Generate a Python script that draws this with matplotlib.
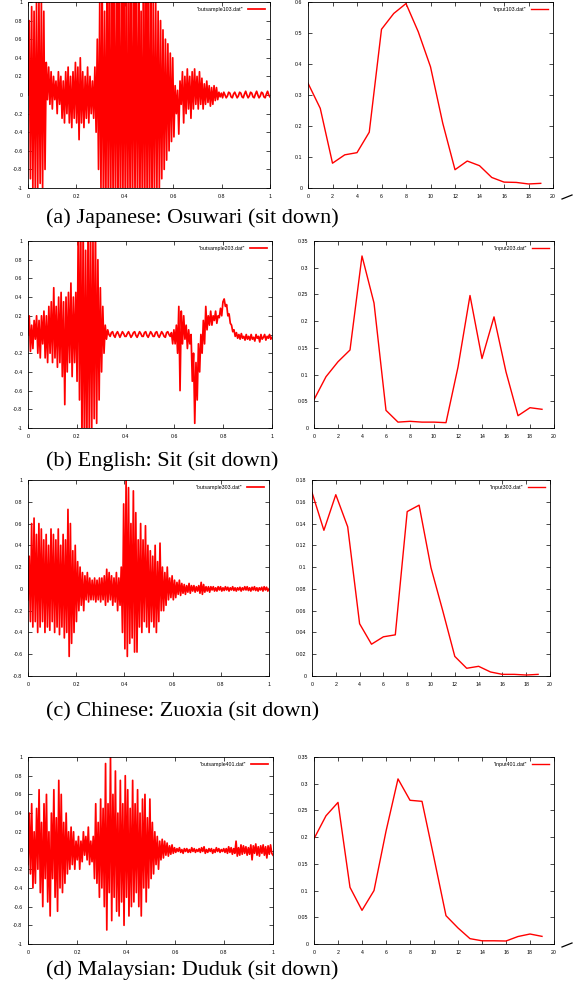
import numpy as np
import matplotlib
matplotlib.use('Agg')
import matplotlib.pyplot as plt
from matplotlib.ticker import FuncFormatter, MultipleLocator
from matplotlib.lines import Line2D

# waveforms: 200 samples each over t = 0..1 (20 per 0.1)
wave103 = [
    0.0, 0.8, -0.9, 0.95, -1.0, 0.9, -1.0, 1.0, -1.0, 1.0, -0.95, 1.0, -1.0, 0.9, -0.8, 0.35, -0.05, 0.3, -0.1, 0.25,
    -0.15, 0.2, -0.05, 0.15, -0.2, 0.25, -0.1, 0.2, -0.25, 0.15, -0.3, 0.25, -0.2, 0.3, -0.3, 0.2, -0.35, 0.25, -0.25, 0.35,
    -0.3, 0.3, -0.48, 0.4, -0.3, 0.25, -0.35, 0.2, -0.25, 0.3, -0.3, 0.2, -0.2, 0.15, -0.25, 0.3, -0.4, 0.6, -0.8, 1.0,
    -1.0, 1.2, -1.2, 0.9, -1.2, 1.2, -1.1, 1.2, -1.2, 1.1, -1.2, 1.2, -1.2, 1.2, -1.2, 1.2, -1.2, 1.2, -1.2, 1.2,
    -1.2, 1.2, -1.2, 1.0, -1.2, 1.2, -1.2, 1.2, -1.1, 1.2, -1.2, 1.2, -1.2, 0.9, -1.2, 1.2, -1.2, 1.2, -1.2, 1.2,
    -1.2, 1.1, -1.2, 1.0, -1.1, 1.0, -1.0, 0.9, -1.0, 0.8, -0.9, 0.7, -0.8, 0.6, -0.7, 0.55, -0.6, 0.45, -0.5, 0.4,
    -0.45, 0.1, -0.2, 0.05, -0.42, 0.15, -0.1, 0.25, -0.3, 0.2, -0.2, 0.28, -0.15, 0.2, -0.25, 0.25, -0.15, 0.28, -0.1, 0.2,
    -0.15, 0.25, -0.1, 0.18, -0.15, 0.12, -0.1, 0.15, -0.08, 0.1, -0.12, 0.08, -0.1, 0.1, -0.06, 0.08, -0.05, 0.03, -0.02, 0.02,
    -0.03, 0.03, 0.0, -0.03, -0.01, 0.03, 0.02, -0.02, -0.03, 0.01, 0.03, 0.0, -0.03, -0.01, 0.03, 0.02, -0.02, -0.03, 0.01, 0.04,
    0.0, -0.03, -0.01, 0.03, 0.02, -0.02, -0.03, 0.01, 0.04, 0.0, -0.03, -0.01, 0.03, 0.02, -0.02, -0.03, 0.01, 0.04, 0.0, -0.02,
]
wave203 = [
    0.0, 0.2, -0.18, 0.1, -0.15, 0.15, -0.05, 0.2, -0.2, 0.15, -0.25, 0.2, -0.1, 0.25, -0.25, 0.2, -0.3, 0.3, -0.2, 0.35,
    -0.3, 0.5, -0.25, 0.3, -0.35, 0.4, -0.3, 0.45, -0.45, 0.35, -0.75, 0.4, -0.4, 0.45, -0.3, 0.55, -0.45, 0.4, -0.3, 0.45,
    -0.5, 1.2, -0.7, 1.2, -1.2, 1.2, -1.2, 0.9, -1.2, 1.2, -1.1, 1.2, -1.0, 1.0, -0.9, 1.2, -0.95, 0.8, -0.7, 0.5,
    -0.4, 0.3, -0.2, 0.1, -0.05, 0.05, 0.0, -0.02, 0.02, 0.03, -0.01, -0.03, 0.01, 0.03, 0.0, -0.03, 0.0, 0.03, 0.01, -0.02,
    -0.02, 0.01, 0.03, 0.0, -0.03, -0.01, 0.02, 0.03, -0.01, -0.03, 0.0, 0.03, 0.01, -0.02, -0.02, 0.02, 0.03, -0.01, -0.03, 0.0,
    0.03, 0.01, -0.02, -0.02, 0.02, 0.03, -0.01, -0.03, 0.0, 0.03, 0.01, -0.02, -0.03, 0.02, 0.03, 0.0, -0.02, 0.02, -0.1, 0.05,
    -0.1, 0.1, -0.2, 0.3, -0.6, 0.25, -0.1, 0.2, -0.05, 0.1, -0.15, 0.05, -0.1, 0.0, -0.5, -0.2, -0.95, -0.3, -0.7, -0.1,
    -0.4, 0.0, -0.2, 0.15, -0.1, 0.3, 0.05, 0.2, 0.1, 0.25, 0.1, 0.2, 0.15, 0.25, 0.12, 0.2, 0.18, 0.28, 0.2, 0.35,
    0.38, 0.3, 0.32, 0.2, 0.22, 0.12, 0.1, 0.03, 0.05, -0.02, 0.02, -0.04, 0.0, -0.05, 0.01, -0.04, -0.02, -0.06, 0.0, -0.05,
    -0.02, -0.06, 0.0, -0.05, -0.03, -0.07, 0.0, -0.04, -0.02, -0.08, 0.0, -0.05, -0.03, 0.0, -0.06, -0.02, -0.04, 0.0, -0.05, -0.03,
]
wave303 = [
    -0.1, 0.3, -0.3, 0.6, -0.35, 0.65, -0.3, 0.5, -0.4, 0.6, -0.35, 0.55, -0.3, 0.45, -0.4, 0.5, -0.35, 0.4, -0.38, 0.55,
    -0.3, 0.5, -0.4, 0.45, -0.35, 0.55, -0.42, 0.4, -0.35, 0.5, -0.45, 0.45, -0.4, 0.73, -0.62, 0.6, -0.5, 0.35, -0.4, 0.4,
    -0.3, 0.25, -0.2, 0.2, -0.15, 0.15, -0.2, 0.12, -0.1, 0.15, -0.12, 0.1, -0.1, 0.08, -0.1, 0.1, -0.12, 0.08, -0.1, 0.1,
    -0.12, 0.1, -0.1, 0.12, -0.15, 0.18, -0.12, 0.15, -0.1, 0.12, -0.15, 0.1, -0.12, 0.15, -0.2, 0.1, -0.15, 0.2, -0.4, 0.78,
    -0.55, 1.0, -0.62, 0.93, -0.5, 0.6, -0.45, 0.9, -0.58, 0.7, -0.58, 0.45, -0.35, 0.6, -0.4, 0.45, -0.3, 0.58, -0.35, 0.4,
    -0.4, 0.35, -0.3, 0.3, -0.35, 0.4, -0.4, 0.25, -0.3, 0.42, -0.2, 0.2, -0.2, 0.15, -0.15, 0.2, -0.1, 0.1, -0.08, 0.12,
    -0.1, 0.08, -0.08, 0.06, -0.05, 0.08, -0.06, 0.05, -0.04, 0.04, -0.05, 0.03, -0.03, 0.05, -0.04, 0.03, -0.02, 0.03, -0.03, 0.02,
    -0.02, 0.03, -0.04, 0.06, -0.05, 0.04, -0.03, 0.02, -0.02, 0.02, -0.03, 0.02, -0.01, 0.02, -0.02, 0.01, -0.02, 0.02, -0.01, 0.02,
    -0.02, 0.01, -0.015, 0.02, -0.01, 0.015, -0.02, 0.01, -0.01, 0.02, -0.015, 0.01, -0.02, 0.01, -0.01, 0.015, -0.02, 0.01, -0.01, 0.02,
    -0.01, 0.02, -0.015, 0.01, -0.02, 0.015, -0.01, 0.02, -0.015, 0.01, -0.02, 0.01, -0.01, 0.015, -0.02, 0.02, -0.01, 0.015, -0.02, 0.0,
]
wave401 = [
    -0.15, 0.4, -0.25, 0.5, -0.4, 0.2, -0.35, 0.45, -0.2, 0.65, -0.45, 0.3, -0.6, 0.5, -0.3, 0.6, -0.55, 0.2, -0.7, 0.4,
    -0.3, 0.65, -0.5, 0.35, -0.65, 0.75, -0.4, 0.6, -0.45, 0.3, -0.35, 0.4, -0.25, 0.2, -0.2, 0.25, -0.15, 0.2, -0.2, 0.1,
    -0.1, 0.15, -0.2, 0.1, -0.12, 0.2, -0.05, 0.15, -0.1, 0.25, -0.15, 0.1, -0.12, 0.15, -0.3, 0.5, -0.35, 0.3, -0.5, 0.55,
    -0.4, 0.45, -0.6, 0.93, -0.85, 0.5, -0.45, 1.0, -0.75, 0.6, -0.5, 0.85, -0.65, 0.4, -0.7, 0.75, -0.55, 0.5, -0.8, 0.8,
    -0.5, 0.65, -0.7, 0.45, -0.6, 0.75, -0.55, 0.5, -0.45, 0.65, -0.6, 0.4, -0.7, 0.55, -0.4, 0.6, -0.55, 0.35, -0.4, 0.55,
    -0.3, 0.3, -0.25, 0.2, -0.15, 0.15, -0.2, 0.1, -0.1, 0.12, -0.08, 0.1, -0.05, 0.08, -0.06, 0.05, -0.04, 0.06, -0.03, 0.03,
    -0.02, 0.02, -0.01, 0.03, -0.02, 0.01, -0.03, 0.02, -0.01, 0.02, -0.02, 0.01, -0.02, 0.03, -0.01, 0.02, -0.02, 0.01, -0.01, 0.02,
    -0.02, 0.03, -0.01, 0.04, -0.03, 0.01, -0.02, 0.02, -0.01, 0.02, -0.03, 0.01, -0.02, 0.03, -0.01, 0.02, -0.02, 0.01, -0.01, 0.02,
    -0.02, 0.02, -0.03, 0.04, -0.02, 0.03, -0.04, 0.02, -0.03, 0.1, -0.06, 0.03, -0.05, 0.06, -0.04, 0.05, -0.03, 0.04, -0.05, 0.03,
    -0.04, 0.06, -0.1, 0.05, -0.03, 0.07, -0.05, 0.04, -0.06, 0.05, -0.03, 0.06, -0.05, 0.04, -0.08, 0.05, -0.04, 0.06, -0.03, -0.05,
]

# feature vectors (index 0..19)
input103 = [0.338, 0.257, 0.080, 0.107, 0.114, 0.180, 0.512, 0.563, 0.595, 0.504,
            0.391, 0.209, 0.059, 0.087, 0.072, 0.034, 0.019, 0.018, 0.013, 0.015]
input203 = [0.053, 0.096, 0.124, 0.146, 0.322, 0.234, 0.033, 0.011, 0.0125, 0.011,
            0.011, 0.010, 0.114, 0.248, 0.130, 0.208, 0.105, 0.023, 0.038, 0.035]
input303 = [0.1686, 0.1338, 0.1665, 0.137, 0.048, 0.0292, 0.036, 0.0378, 0.151, 0.1569,
            0.0994, 0.0594, 0.018, 0.0071, 0.0089, 0.0037, 0.0015, 0.0015, 0.0009, 0.0015]
input401 = [0.197, 0.240, 0.265, 0.106, 0.063, 0.100, 0.211, 0.309, 0.269, 0.267,
            0.161, 0.053, 0.030, 0.010, 0.006, 0.006, 0.0056, 0.014, 0.0187, 0.0143]

wave_names = ['"outsample103.dat"', '"outsample203.dat"', '"outsample303.dat"', '"outsample401.dat"']
input_names = ['"input103.dat"', '"input203.dat"', '"input303.dat"', '"input401.dat"']
captions = ['(a) Japanese: Osuwari (sit down)', '(b) English: Sit (sit down)',
            '(c) Chinese: Zuoxia (sit down)', '(d) Malaysian: Duduk (sit down)']

waves = [wave103, wave203, wave303, wave401]
inputs = [input103, input203, input303, input401]
wave_ylim = [(-1, 1), (-1, 1), (-0.8, 1), (-1, 1)]
input_ylim = [(0, 0.6), (0, 0.35), (0, 0.18), (0, 0.35)]
input_ystep = [0.1, 0.05, 0.02, 0.05]

W, H = 584, 993
fig = plt.figure(figsize=(W / 100, H / 100), dpi=100)


def box(x0, y0, x1, y1):
    return [x0 / W, 1 - y1 / H, (x1 - x0) / W, (y1 - y0) / H]


left_boxes = [(28, 2, 270, 188), (28, 241, 272, 428), (28, 480, 269, 676), (28, 757, 273, 944)]
right_boxes = [(308, 2, 553, 188), (314, 241, 554, 428), (312, 480, 550, 676), (314, 757, 554, 944)]
caption_y = [218, 461, 712, 970]

fmt = FuncFormatter(lambda v, p: '%g' % round(v, 4))


def style(ax):
    ax.tick_params(direction='in', top=True, right=True, length=3, width=0.5,
                   labelsize=3.8, pad=4, colors='black')
    for s in ax.spines.values():
        s.set_linewidth(0.6)
    ax.xaxis.set_major_formatter(fmt)
    ax.yaxis.set_major_formatter(fmt)
    for lab in ax.get_xticklabels() + ax.get_yticklabels():
        lab.set_fontfamily('Liberation Sans')
    ax.legend(loc='upper right', frameon=False, markerfirst=False,
              handlelength=3.2, borderaxespad=0.6, prop={'family': 'Liberation Sans', 'size': 3.8})


for i in range(4):
    ax = fig.add_axes(box(*left_boxes[i]))
    t = np.linspace(0, 1, len(waves[i]))
    ax.plot(t, waves[i], color='#ff0000', linewidth=1.25, label=wave_names[i])
    ax.set_xlim(0, 1)
    ax.set_ylim(*wave_ylim[i])
    ax.xaxis.set_major_locator(MultipleLocator(0.2))
    ax.yaxis.set_major_locator(MultipleLocator(0.2))
    style(ax)

    ax2 = fig.add_axes(box(*right_boxes[i]))
    ax2.plot(range(len(inputs[i])), inputs[i], color='#ff0000', linewidth=1.0, label=input_names[i])
    ax2.set_xlim(0, 20)
    ax2.set_ylim(*input_ylim[i])
    ax2.xaxis.set_major_locator(MultipleLocator(2))
    ax2.yaxis.set_major_locator(MultipleLocator(input_ystep[i]))
    style(ax2)

    fig.text(46 / W, 1 - caption_y[i] / H, captions[i], fontsize=16,
             family='Liberation Serif', va='center', ha='left')

# small stray marks at the right edge
for yy in (197, 945):
    fig.add_artist(Line2D([562 / W, 572 / W], [1 - (yy + 2) / H, 1 - (yy - 2) / H],
                          color='black', linewidth=0.9))

fig.savefig('out.png', dpi=100)
